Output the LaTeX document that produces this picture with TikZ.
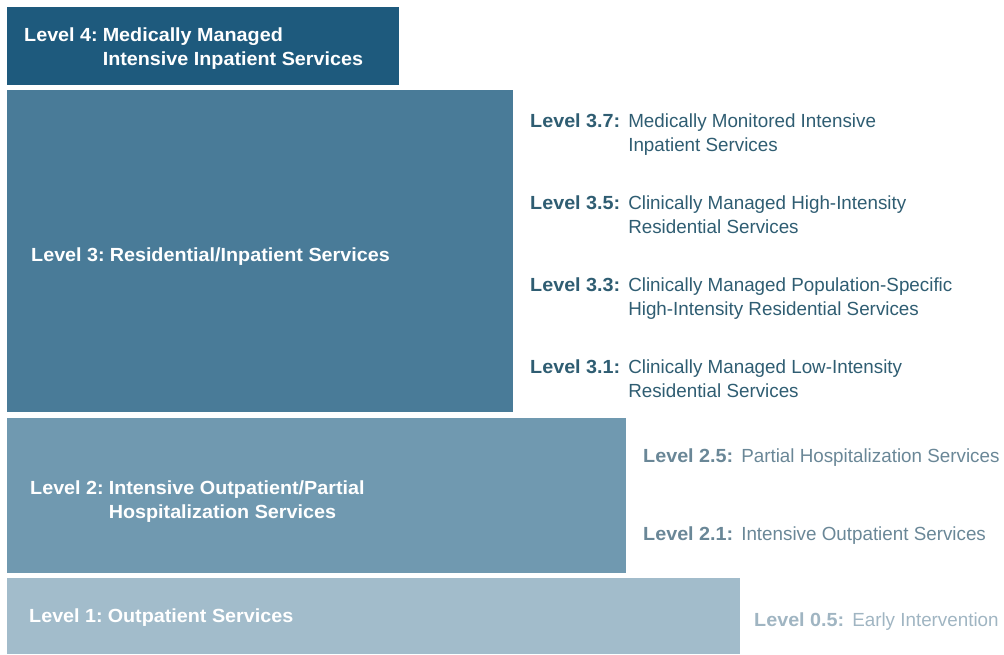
\documentclass[tikz,border=0pt]{standalone}
\usepackage{fontspec}
\usepackage{xcolor}
\usepackage{tikz}
\usetikzlibrary{positioning}
\newfontfamily\levelfont[FakeStretch=0.99, BoldFeatures={FakeStretch=1.04}]{Liberation Sans}

\definecolor{levelfour}{HTML}{1E5A7D}
\definecolor{levelthree}{HTML}{497B98}
\definecolor{leveltwo}{HTML}{7099B0}
\definecolor{levelone}{HTML}{A2BCCB}
\definecolor{subthree}{HTML}{2F5D72}
\definecolor{subtwo}{HTML}{6A8797}
\definecolor{subone}{HTML}{A0B5C2}

\tikzset{
  levelbox/.style={anchor=north west, inner sep=0pt, outer sep=0pt, fill=#1},
  boxtext/.style={text=white, font=\levelfont\fontsize{19}{24}\selectfont, inner sep=0pt, anchor=west},
  subtext/.style={text=#1, font=\levelfont\fontsize{19}{24}\selectfont, inner sep=0pt, anchor=west},
}
\newcommand{\lvl}[2]{\begin{tabular}{@{}l@{\hspace{8pt}}l@{}}\textbf{#1}&#2\end{tabular}}
\newcommand{\lvltwo}[3]{\begin{tabular}{@{}l@{\hspace{8pt}}l@{}}\textbf{#1}&#2\\&#3\end{tabular}}
\newcommand{\blvl}[2]{\textbf{\begin{tabular}{@{}l@{\hspace{5pt}}l@{}}#1&#2\end{tabular}}}
\newcommand{\blvltwo}[3]{\textbf{\begin{tabular}{@{}l@{\hspace{5pt}}l@{}}#1&#2\\&#3\end{tabular}}}

\begin{document}
\begin{tikzpicture}[x=1pt, y=-1pt]

\useasboundingbox (0,0) rectangle (1004,654);

% Draw the four level boxes
\node[levelbox=levelfour,  minimum width=392pt, minimum height=78pt]  (L4) at (7,7)   {};
\node[levelbox=levelthree, minimum width=506pt, minimum height=322pt] (L3) at (7,90)  {};
\node[levelbox=leveltwo,   minimum width=619pt, minimum height=155pt] (L2) at (7,418) {};
\node[levelbox=levelone,   minimum width=733pt, minimum height=76pt]  (L1) at (7,578) {};

% Labels inside the boxes
\node[boxtext, right=17pt of L4.west, yshift=-2.5pt] (L4text) {\blvltwo{Level 4:}{Medically Managed}{Intensive Inpatient Services}};
\node[boxtext, right=24pt of L3.west, yshift=-5.5pt] (L3text) {\blvl{Level 3:}{Residential/Inpatient Services}};
\node[boxtext, right=23pt of L2.west, yshift=-6.5pt] (L2text) {\blvltwo{Level 2:}{Intensive Outpatient/Partial}{Hospitalization Services}};
\node[boxtext, right=22pt of L1.west, yshift=-2pt] (L1text) {\blvl{Level 1:}{Outpatient Services}};

% Sub levels beside the boxes
\node[subtext=subthree, right=17pt of L3.north east, yshift=-44.5pt]  (L37) {\lvltwo{Level 3.7:}{Medically Monitored Intensive}{Inpatient Services}};
\node[subtext=subthree, right=17pt of L3.north east, yshift=-126.5pt] (L35) {\lvltwo{Level 3.5:}{Clinically Managed High-Intensity}{Residential Services}};
\node[subtext=subthree, right=17pt of L3.north east, yshift=-208.5pt] (L33) {\lvltwo{Level 3.3:}{Clinically Managed Population-Specific}{High-Intensity Residential Services}};
\node[subtext=subthree, right=17pt of L3.north east, yshift=-290.5pt] (L31) {\lvltwo{Level 3.1:}{Clinically Managed Low-Intensity}{Residential Services}};

\node[subtext=subtwo, right=17pt of L2.north east, yshift=-39.5pt]  (L25) {\lvl{Level 2.5:}{Partial Hospitalization Services}};
\node[subtext=subtwo, right=17pt of L2.north east, yshift=-117.5pt] (L21) {\lvl{Level 2.1:}{Intensive Outpatient Services}};

\node[subtext=subone, right=14pt of L1.east, yshift=-5.5pt] (L05) {\lvl{Level 0.5:}{Early Intervention}};

\end{tikzpicture}
\end{document}
